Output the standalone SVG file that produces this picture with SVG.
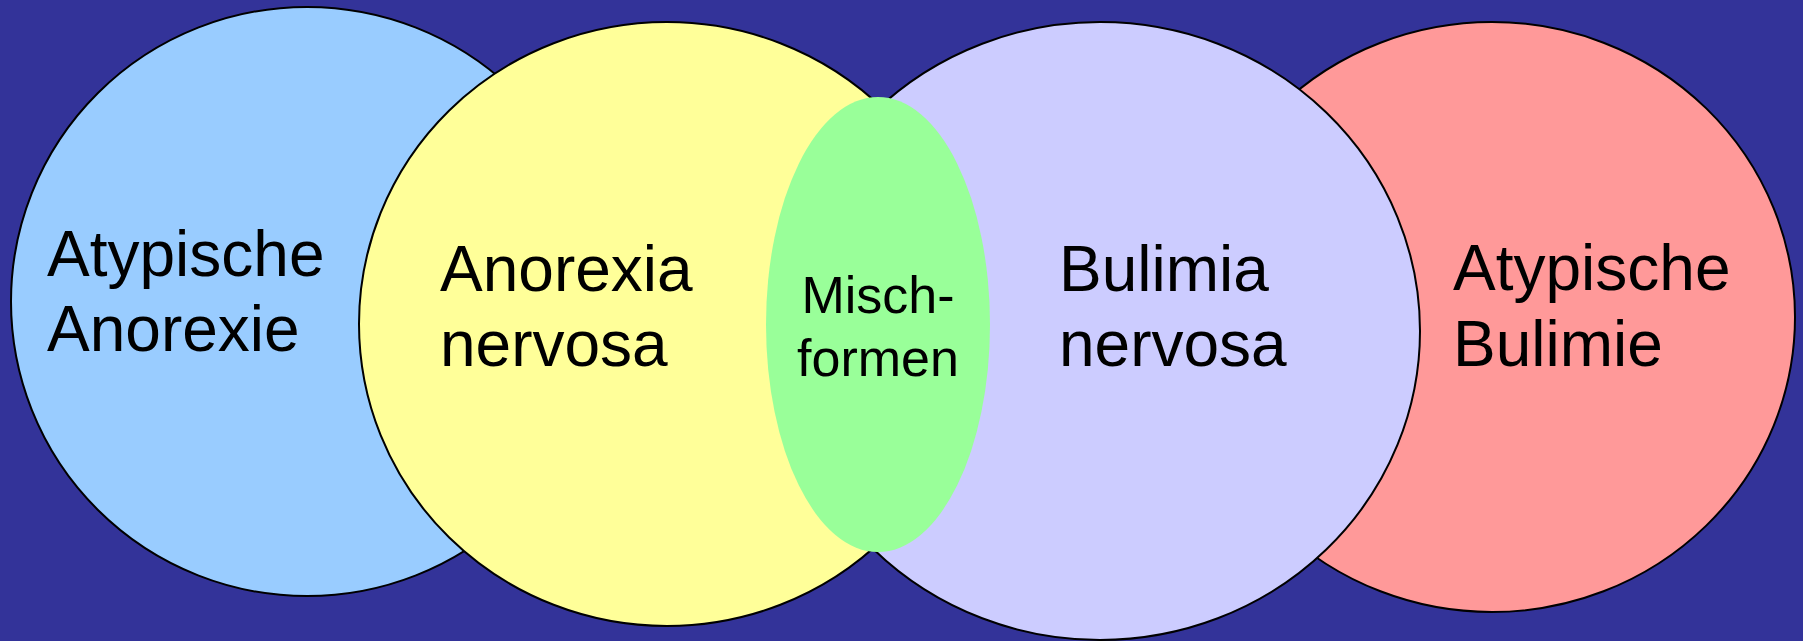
<svg xmlns="http://www.w3.org/2000/svg" width="1803" height="641" viewBox="0 0 1803 641">
<style>
.c{stroke:#000;stroke-width:2}
.t{font-family:"Liberation Sans",Arial,sans-serif;font-size:64px;fill:#000}
.s{font-family:"Liberation Sans",Arial,sans-serif;font-size:52px;fill:#000;text-anchor:middle}
</style>
<rect width="1803" height="641" fill="#333399"/>
<g id="atypische-anorexie">
<ellipse class="c" cx="307" cy="301.5" rx="296" ry="294.5" fill="#99CCFF"/>
<text class="t" x="47" y="276">Atypische</text>
<text class="t" x="47" y="351">Anorexie</text>
</g>
<g id="atypische-bulimie">
<ellipse class="c" cx="1492" cy="317" rx="303" ry="295" fill="#FF9999"/>
</g>
<g id="anorexia-nervosa">
<ellipse class="c" cx="667" cy="324" rx="308" ry="302" fill="#FFFF99"/>
<text class="t" x="440" y="291">Anorexia</text>
<text class="t" x="440" y="366">nervosa</text>
</g>
<g id="bulimia-nervosa">
<ellipse class="c" cx="1100" cy="331" rx="320" ry="309" fill="#CCCCFF"/>
<text class="t" x="1059" y="291">Bulimia</text>
<text class="t" x="1059" y="366">nervosa</text>
</g>
<g id="mischformen">
<ellipse cx="878" cy="324.5" rx="112" ry="227.5" fill="#99FF99"/>
<text class="s" x="878" y="313">Misch-</text>
<text class="s" x="878" y="376">formen</text>
</g>
<g id="atypische-bulimie-label">
<text class="t" x="1453" y="290">Atypische</text>
<text class="t" x="1453" y="366">Bulimie</text>
</g>
<g id="connectors"/>
</svg>
